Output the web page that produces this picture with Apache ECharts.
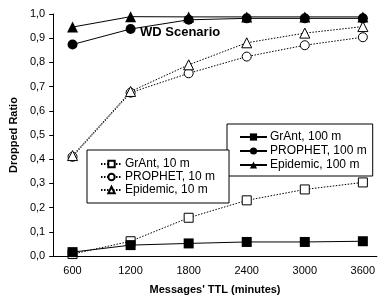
<!DOCTYPE html>
<html>
<head>
<meta charset="utf-8">
<script src="https://cdn.jsdelivr.net/npm/echarts@6/dist/echarts.min.js"></script>
<style>
html, body { margin: 0; padding: 0; background: #fff; }
#chart { width: 378px; height: 300px; }
</style>
</head>
<body>
<div id="chart"></div>
<script>
var myChart = echarts.init(document.getElementById('chart'));

// TTL in minutes, dropped ratio per protocol
var ttl = [600, 1200, 1800, 2400, 3000, 3600];
var grant100 = [0.016, 0.045, 0.052, 0.058, 0.058, 0.061];
var prophet100 = [0.874, 0.938, 0.976, 0.982, 0.982, 0.982];
var epidemic100 = [0.946, 0.989, 0.988, 0.988, 0.988, 0.988];
var grant10 = [0.008, 0.061, 0.158, 0.230, 0.275, 0.304];
var prophet10 = [0.410, 0.675, 0.755, 0.824, 0.871, 0.904];
var epidemic10 = [0.415, 0.680, 0.790, 0.881, 0.921, 0.948];

function pairs(vals) {
    return ttl.map(function (t, i) { return [t, vals[i]]; });
}

var font = 'Liberation Sans, Arial, sans-serif';

function solid(name, vals, symbol, size) {
    return {
        name: name,
        type: 'line',
        data: pairs(vals),
        symbol: symbol,
        symbolSize: size,
        z: 5,
        lineStyle: { color: '#000', width: 1 },
        itemStyle: { color: '#000' }
    };
}
function dotted(name, vals, symbol, size) {
    return {
        name: name,
        type: 'line',
        data: pairs(vals),
        symbol: symbol,
        symbolSize: size,
        z: 3,
        lineStyle: { color: '#000', width: 1, type: [1.5, 1.5] },
        itemStyle: { color: '#fff', borderColor: '#000', borderWidth: 1 }
    };
}

option = {
    backgroundColor: '#fff',
    animation: false,
    textStyle: { fontFamily: font },
    title: {
        text: 'WD Scenario',
        left: 140,
        top: 26,
        padding: 0,
        textStyle: { fontSize: 13, fontWeight: 'bold', color: '#000', fontFamily: font }
    },
    legend: [{
        orient: 'vertical',
        left: 227,
        top: 124,
        padding: [7, 6, 5, 12],
        itemWidth: 27,
        itemHeight: 9,
        itemGap: 2,
        borderColor: '#000',
        borderWidth: 1,
        backgroundColor: '#fff',
        data: ['GrAnt, 100 m', 'PROPHET, 100 m', 'Epidemic, 100 m'],
        textStyle: { fontSize: 12, fontFamily: font, color: '#000', padding: [0, 0, 0, -2] }
    }, {
        orient: 'vertical',
        left: 87,
        top: 150,
        padding: [8, 14, 7, 13],
        itemWidth: 21,
        itemHeight: 8,
        itemGap: 1,
        borderColor: '#000',
        borderWidth: 1,
        backgroundColor: '#fff',
        data: ['GrAnt, 10 m', 'PROPHET, 10 m', 'Epidemic, 10 m'],
        textStyle: { fontSize: 12, fontFamily: font, color: '#000', padding: [0, 0, 0, -2] }
    }],
    grid: { left: 51, right: 0, top: 14, bottom: 40 },
    xAxis: {
        type: 'value',
        min: 400,
        max: 3745,
        name: "Messages' TTL (minutes)",
        nameLocation: 'middle',
        nameGap: 28,
        nameTextStyle: { fontSize: 11, fontWeight: 'bold', color: '#000' },
        axisLine: { lineStyle: { color: '#000', width: 1 } },
        axisTick: { show: false },
        splitLine: { show: false },
        axisLabel: {
            customValues: ttl,
            fontSize: 11,
            color: '#000',
            margin: 9,
            formatter: function (v) { return String(v); }
        }
    },
    yAxis: {
        type: 'value',
        min: 0,
        max: 1,
        interval: 0.1,
        name: 'Dropped Ratio',
        nameLocation: 'middle',
        nameGap: 34,
        nameTextStyle: { fontSize: 11, fontWeight: 'bold', color: '#000' },
        axisLine: { show: true, lineStyle: { color: '#000', width: 1 } },
        axisTick: { show: true, length: 4, lineStyle: { color: '#000' } },
        splitLine: { show: false },
        axisLabel: {
            fontSize: 11,
            color: '#000',
            margin: 8,
            formatter: function (v) { return v.toFixed(1).replace('.', ','); }
        }
    },
    series: [
        dotted('GrAnt, 10 m', grant10, 'rect', 9),
        dotted('PROPHET, 10 m', prophet10, 'circle', 9),
        dotted('Epidemic, 10 m', epidemic10, 'triangle', 10),
        solid('GrAnt, 100 m', grant100, 'rect', 10),
        solid('PROPHET, 100 m', prophet100, 'circle', 10),
        solid('Epidemic, 100 m', epidemic100, 'triangle', 11)
    ]
};

if (option && typeof option === "object") {
    myChart.setOption(option, true);
}
</script>
</body>
</html>
